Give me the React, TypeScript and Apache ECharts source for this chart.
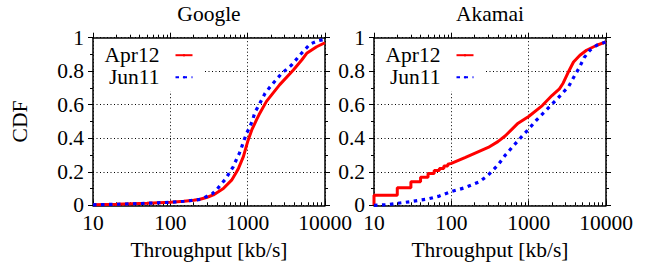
import React, { useEffect, useRef } from 'react';
import * as echarts from 'echarts';

const panelTitles = ['Google', 'Akamai'];
const seriesNames = ['Apr12', 'Jun11'];
const xName = 'Throughput [kb/s]';
const yName = 'CDF';
const xMinorTicks = [20, 30, 40, 50, 60, 70, 80, 90, 200, 300, 400, 500, 600, 700, 800, 900, 2000, 3000, 4000, 5000, 6000, 7000, 8000, 9000];

const googleAprX = [10, 20, 50, 100, 150, 200, 242, 300, 360, 485, 620, 720, 760, 880, 1000, 1130, 1300, 1400, 1750, 2600, 3900, 5000, 5800, 7800, 10000];
const googleAprY = [0.003, 0.006, 0.012, 0.018, 0.024, 0.03, 0.036, 0.048, 0.062, 0.1, 0.15, 0.2, 0.22, 0.29, 0.38, 0.45, 0.51, 0.54, 0.62, 0.72, 0.807, 0.867, 0.907, 0.946, 0.97];
const googleJunX = [10, 20, 50, 100, 150, 200, 250, 350, 400, 460, 525, 580, 650, 710, 780, 840, 900, 970, 1070, 1160, 1240, 1370, 1520, 1680, 1900, 2150, 2750, 3700, 4750, 6400, 8200, 10000];
const googleJunY = [0.003, 0.006, 0.012, 0.018, 0.024, 0.03, 0.036, 0.07, 0.095, 0.13, 0.16, 0.195, 0.23, 0.27, 0.31, 0.35, 0.39, 0.43, 0.47, 0.51, 0.555, 0.59, 0.63, 0.668, 0.7, 0.73, 0.787, 0.837, 0.897, 0.962, 0.982, 0.99];

const akamaiAprX = [10, 10, 20, 20, 30, 30, 40, 40, 50, 50, 60, 60, 70, 70, 80, 80, 90, 90, 100, 150, 200, 300, 400, 500, 730, 1000, 1500, 2000, 2500, 2800, 3300, 3800, 4600, 5600, 7600, 10000];
const akamaiAprY = [0, 0.06, 0.06, 0.105, 0.105, 0.141, 0.141, 0.167, 0.167, 0.19, 0.19, 0.207, 0.207, 0.22, 0.22, 0.235, 0.235, 0.245, 0.25, 0.285, 0.31, 0.345, 0.38, 0.415, 0.49, 0.53, 0.595, 0.655, 0.695, 0.73, 0.8, 0.855, 0.895, 0.925, 0.955, 0.975];
const akamaiJunX = [10, 15, 20, 30, 50, 70, 100, 150, 230, 300, 400, 500, 650, 850, 1000, 1270, 1700, 2400, 3300, 4000, 4500, 5200, 6200, 7600, 10000];
const akamaiJunY = [0.0, 0.004, 0.012, 0.022, 0.038, 0.055, 0.082, 0.105, 0.14, 0.18, 0.24, 0.3, 0.36, 0.42, 0.455, 0.51, 0.57, 0.64, 0.71, 0.78, 0.82, 0.88, 0.925, 0.955, 0.975];

const FONT = 'Liberation Serif';
const FS = 21.5;
const RED = '#ff0000';
const BLUE = '#0000ff';

function pairs(xs: number[], ys: number[]) {
  return xs.map((x, i) => [x, ys[i]]);
}

export default function App() {
  const ref = useRef<HTMLDivElement>(null);
  useEffect(() => {
    document.body.style.margin = '0';
    if (!ref.current) return;
    const chart = echarts.init(ref.current, null, { renderer: 'svg' });

    const gridLefts = [93, 374];
    const gridTop = 37.7;
    const gridW = 232;
    const gridH = 167.6;

    const axisLine = { show: true, lineStyle: { color: '#000', width: 1.5 } };
    const dotted = { show: true, lineStyle: { color: '#000', width: 1, type: [1, 2.5] } };
    const tickStyle = { color: '#000', width: 1 };

    const xAxes: any[] = [];
    const yAxes: any[] = [];
    gridLefts.forEach((_, g) => {
      const base = { type: 'log', logBase: 10, min: 10, max: 10000, gridIndex: g };
      xAxes.push({
        ...base, position: 'bottom',
        axisLine, axisTick: { show: true, inside: true, length: 5, lineStyle: tickStyle },
        axisLabel: { show: true, color: '#000', fontSize: FS, fontFamily: FONT, margin: 7, formatter: (v: number) => String(Math.round(v)) },
        splitLine: dotted,
        name: xName, nameLocation: 'middle', nameGap: 26,
        nameTextStyle: { color: '#000', fontSize: FS, fontFamily: FONT },
      });
      xAxes.push({
        ...base, position: 'bottom',
        axisLine: { show: false },
        axisTick: { show: true, inside: true, length: 3, customValues: xMinorTicks, lineStyle: tickStyle },
        axisLabel: { show: false }, splitLine: { show: false },
      });
      xAxes.push({
        ...base, position: 'top',
        axisLine, axisTick: { show: true, inside: false, length: 5, lineStyle: tickStyle },
        axisLabel: { show: false }, splitLine: { show: false },
      });
      xAxes.push({
        ...base, position: 'top',
        axisLine: { show: false },
        axisTick: { show: true, inside: false, length: 3, customValues: xMinorTicks, lineStyle: tickStyle },
        axisLabel: { show: false }, splitLine: { show: false },
      });
      const ybase = { type: 'value', min: 0, max: 1, interval: 0.2, gridIndex: g };
      yAxes.push({
        ...ybase, position: 'left',
        axisLine, axisTick: { show: true, inside: false, length: 5, lineStyle: tickStyle },
        minorTick: { show: true, splitNumber: 2, length: 3, lineStyle: tickStyle },
        axisLabel: { show: true, color: '#000', fontSize: FS, fontFamily: FONT, margin: 9 },
        splitLine: dotted,
        name: g === 0 ? yName : '', nameLocation: 'middle', nameGap: 62,
        nameTextStyle: { color: '#000', fontSize: FS, fontFamily: FONT },
      });
      yAxes.push({
        ...ybase, position: 'right',
        axisLine, axisTick: { show: true, inside: false, length: 5, lineStyle: tickStyle },
        minorTick: { show: true, splitNumber: 2, length: 3, lineStyle: tickStyle },
        axisLabel: { show: false }, splitLine: { show: false },
      });
    });

    const panelData = [
      [pairs(googleAprX, googleAprY), pairs(googleJunX, googleJunY)],
      [pairs(akamaiAprX, akamaiAprY), pairs(akamaiJunX, akamaiJunY)],
    ];

    const series: any[] = [];
    panelData.forEach((pd, g) => {
      series.push({
        name: seriesNames[0], type: 'line', xAxisIndex: g * 4, yAxisIndex: g * 2,
        data: pd[0], showSymbol: false, symbol: 'none', z: 3,
        lineStyle: { color: RED, width: 3 }, itemStyle: { color: RED },
      });
      series.push({
        name: seriesNames[1], type: 'line', xAxisIndex: g * 4, yAxisIndex: g * 2,
        data: pd[1], showSymbol: false, symbol: 'none', z: 4,
        lineStyle: { color: BLUE, width: 3.2, type: [3.5, 4.5] }, itemStyle: { color: BLUE },
      });
    });

    const option: any = {
      animation: false,
      backgroundColor: '#fff',
      title: panelTitles.map((t, g) => ({
        text: t, left: gridLefts[g] + gridW / 2, top: 3, textAlign: 'center', padding: 0,
        textStyle: { color: '#000', fontSize: FS, fontWeight: 'normal', fontFamily: FONT },
      })),
      grid: gridLefts.map((l) => ({ left: l, top: gridTop, width: gridW, height: gridH, containLabel: false, outerBoundsMode: 'none' })),
      legend: gridLefts.map((l) => ({
        data: seriesNames, orient: 'vertical', left: l + 1.5, top: gridTop + 1.5, align: 'right',
        itemWidth: 17, itemHeight: 3, itemGap: 0,
        padding: [5, 10, 3, 5], backgroundColor: '#fff',
        textStyle: { color: '#000', fontSize: FS, fontFamily: FONT, width: 60, align: 'right', padding: [0, 11, 0, 0], lineHeight: 18 },
        selectedMode: false,
      })),
      xAxis: xAxes,
      yAxis: yAxes,
      series,
    };
    chart.setOption(option);
    return () => chart.dispose();
  }, []);
  return <div ref={ref} style={{ width: 651, height: 262 }} />;
}
